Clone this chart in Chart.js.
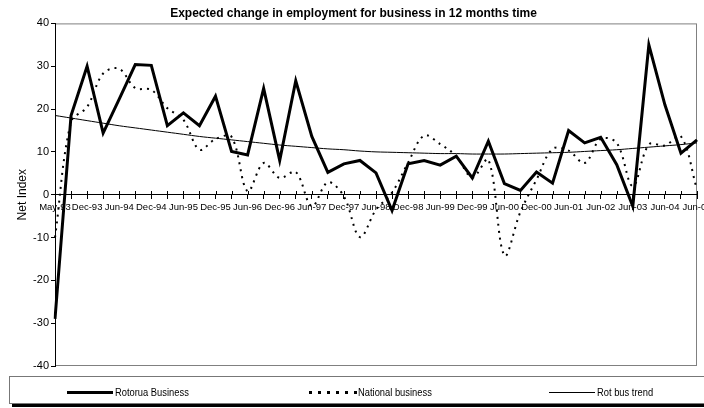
<!DOCTYPE html>
<html>
<head>
<meta charset="utf-8">
<script src="https://cdn.jsdelivr.net/npm/chart.js@4.4.1/dist/chart.umd.min.js"></script>
<style>
html, body { margin: 0; padding: 0; background: #fff; }
#wrap { position: relative; width: 704px; height: 408px; overflow: hidden; }
#chart { position: absolute; left: 0; top: 0; }
#legend-box { position: absolute; left: 9px; top: 376px; width: 700px; height: 26px; border: 1px solid #777; box-shadow: 3px 3px 0 #000; background: #fff; }
.lg { position: absolute; top: 385px; height: 14px; font: 11px 'Liberation Sans', Arial, sans-serif; line-height: 14px; color: #000; white-space: nowrap; transform: scaleX(0.85); transform-origin: 0 50%; }
.sw { position: absolute; }
.dots { height: 3px; background: repeating-linear-gradient(to right, #000 0 3px, transparent 3px 9px); }
</style>
</head>
<body>
<div id="wrap">
    <canvas id="chart" width="704" height="408"></canvas>
    <div id="legend-box"></div>
    <div class="sw" style="left:67px; top:391px; width:46px; border-top:3px solid #000;"></div>
    <div class="lg" style="left:115px;">Rotorua Business</div>
    <div class="sw dots" style="left:309px; top:391px; width:48px;"></div>
    <div class="lg" style="left:358px;">National business</div>
    <div class="sw" style="left:549px; top:392px; width:46px; border-top:1px solid #000;"></div>
    <div class="lg" style="left:597px;">Rot bus trend</div>
</div>
<script>
const categories = [
    'May-93', 'Sep-93', 'Dec-93', 'Mar-94', 'Jun-94', 'Sep-94', 'Dec-94', 'Mar-95', 'Jun-95', 'Sep-95',
    'Dec-95', 'Mar-96', 'Jun-96', 'Sep-96', 'Dec-96', 'Mar-97', 'Jun-97', 'Sep-97', 'Dec-97', 'Mar-98',
    'Jun-98', 'Sep-98', 'Dec-98', 'Mar-99', 'Jun-99', 'Sep-99', 'Dec-99', 'Mar-00', 'Jun-00', 'Sep-00',
    'Dec-00', 'Mar-01', 'Jun-01', 'Dec-01', 'Jun-02', 'Dec-02', 'Jun-03', 'Dec-03', 'Jun-04', 'Dec-04',
    'Jun-05'
];
const rotoruaBusiness = [
    -29, 18.5, 30, 14.4, 22.3, 30.4, 30.2, 16.1, 19.1, 16.1,
    23, 10.1, 9.3, 24.8, 8, 26.6, 13.6, 5.2, 7.2, 8,
    5.1, -3.7, 7.2, 8, 6.9, 9, 3.9, 12.5, 2.6, 1,
    5.3, 2.7, 15, 12.1, 13.4, 7, -2.7, 35, 21, 9.7,
    12.8
];
const nationalBusiness = [
    -10, 17, 20.5, 28.3, 29.4, 24.9, 24.5, 20.2, 17.5, 10.5,
    13, 13.5, 0.8, 7.4, 3.9, 5.3, -2.7, 2.9, -0.4, -9.9,
    -3.5, 0.5, 7.5, 13.8, 11.8, 9, 4, 8.2, -14.2, -4,
    3.5, 10.7, 10.3, 7.4, 13, 12.1, 2, 11.7, 11.5, 13.6,
    1.2
];
const rotBusTrend = [
    18.5, 17.9, 17.3, 16.7, 16.1, 15.6, 15.1, 14.6, 14.1, 13.6,
    13.2, 12.8, 12.4, 12.0, 11.6, 11.3, 11.0, 10.7, 10.5, 10.2,
    10.0, 9.9, 9.8, 9.7, 9.6, 9.6, 9.5, 9.5, 9.5, 9.6,
    9.7, 9.8, 9.9, 10.1, 10.3, 10.5, 10.8, 11.1, 11.4, 11.7,
    12.1
];
const yTicks = [-40, -30, -20, -10, 0, 10, 20, 30, 40];

Chart.defaults.font.family = "'Liberation Sans', Arial, sans-serif";
Chart.defaults.color = '#000';

// plot frame plus the upper half of the crossing x ticks
const frameAndTicks = {
    id: 'frameAndTicks',
    beforeDraw(chart) {
        const { ctx, chartArea: a } = chart;
        ctx.save();
        ctx.strokeStyle = '#808080';
        ctx.lineWidth = 1;
        ctx.strokeRect(a.left + 0.5, a.top + 0.5, a.right - a.left - 1, a.bottom - a.top - 1);
        ctx.restore();
    },
    beforeDatasetsDraw(chart) {
        const { ctx, scales: { x, y } } = chart;
        const y0 = Math.round(y.getPixelForValue(0));
        ctx.save();
        ctx.strokeStyle = '#000';
        ctx.lineWidth = 1;
        ctx.beginPath();
        for (let i = 0; i < categories.length; i++) {
            const px = Math.round(x.getPixelForValue(i)) + 0.5;
            ctx.moveTo(px, y0 - 4);
            ctx.lineTo(px, y0);
        }
        ctx.stroke();
        ctx.restore();
    }
};

new Chart(document.getElementById('chart'), {
    type: 'line',
    data: {
        labels: categories,
        datasets: [
            {
                label: 'Rotorua Business',
                data: rotoruaBusiness,
                borderColor: '#000',
                borderWidth: 3,
                borderJoinStyle: 'miter',
                pointRadius: 0,
                tension: 0
            },
            {
                label: 'National business',
                data: nationalBusiness,
                borderColor: '#000',
                borderWidth: 2,
                borderDash: [2, 5],
                pointRadius: 0,
                tension: 0.35
            },
            {
                label: 'Rot bus trend',
                data: rotBusTrend,
                borderColor: '#000',
                borderWidth: 1,
                pointRadius: 0,
                tension: 0.4
            }
        ]
    },
    options: {
        responsive: false,
        animation: false,
        layout: { padding: { left: 10, right: 7, top: 0, bottom: 42 } },
        plugins: {
            legend: { display: false },
            tooltip: { enabled: false },
            title: {
                display: true,
                text: 'Expected change in employment for business in 12 months time',
                color: '#000',
                font: { size: 12, weight: 'bold' },
                padding: { top: 6, bottom: 3 }
            }
        },
        scales: {
            x: {
                position: { y: 0 },
                offset: false,
                afterFit: (scale) => { scale.paddingLeft = 0; scale.paddingRight = 0; },
                border: { color: '#000', width: 1 },
                grid: { drawOnChartArea: false, drawTicks: true, tickLength: 4, color: '#000' },
                ticks: {
                    autoSkip: false,
                    maxRotation: 0,
                    minRotation: 0,
                    padding: 3,
                    color: '#000',
                    font: { size: 9.5 },
                    callback: (value, index) => (index % 2 === 0 ? categories[index] : '')
                }
            },
            y: {
                min: -40,
                max: 40,
                afterFit: (scale) => { scale.width = 45; },
                afterBuildTicks: (scale) => { scale.ticks = yTicks.map(v => ({ value: v })); },
                border: { color: '#000', width: 1 },
                grid: { drawOnChartArea: false, drawTicks: true, tickLength: 4, color: '#000' },
                ticks: { padding: 2, color: '#000', font: { size: 11 } },
                title: {
                    display: true,
                    text: 'Net Index',
                    color: '#000',
                    font: { size: 12 },
                    padding: { top: 5, bottom: 0 }
                }
            }
        }
    },
    plugins: [frameAndTicks]
});
</script>
</body>
</html>
